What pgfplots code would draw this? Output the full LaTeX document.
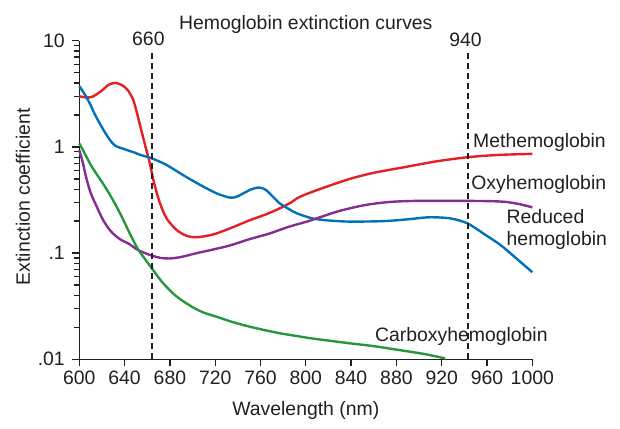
\documentclass[border=0pt]{standalone}
\usepackage{fontspec}
\setmainfont{Liberation Sans}
\usepackage{pgfplots}
\pgfplotsset{compat=1.18}
\definecolor{cred}{RGB}{228,32,38}
\definecolor{cblue}{RGB}{0,114,183}
\definecolor{cpurple}{RGB}{133,45,145}
\definecolor{cgreen}{RGB}{40,150,60}
\definecolor{caxis}{RGB}{35,31,32}
\newcommand\fs{\fontsize{19.4}{23}\selectfont}
\begin{document}
\begin{tikzpicture}
\begin{axis}[
  scale only axis, width=453pt, height=318.6pt,
  ymode=log, xmin=600, xmax=1000, ymin=0.01, ymax=10,
  axis lines*=left, axis line style={-, line width=1.5pt, color=caxis},
  clip=false,
  xtick={600,640,...,1000},
  xticklabels={600,640,680,720,760,800,840,880,920,960,1000},
  ytick={0.01,0.1,1,10}, yticklabels={.01,.1,1,10},
  tick align=outside, major tick length=7pt, minor tick length=5pt,
  every tick/.style={line width=1.3pt, color=caxis},
  tick label style={font=\fs, color=caxis},
  yticklabel style={xshift=-4pt},
  xticklabel style={yshift=-1pt},
  every axis plot/.append style={line width=2.4pt, smooth},
]
\coordinate (SW) at (rel axis cs:0,0);
% Methemoglobin
\addplot[cred] coordinates {
(600,3.0) (606,2.92) (612,2.98) (620,3.4) (626,3.85) (632,4.0) (638,3.8)
(643,3.4) (648,2.7) (653,1.7) (658,1.05) (662,0.72) (666,0.46) (671,0.30)
(677,0.213) (686,0.165) (695,0.145) (703,0.141) (712,0.145) (721,0.153)
(736,0.176) (751,0.205) (765,0.232) (777,0.264) (787,0.30) (795,0.34)
(815,0.41) (839,0.50) (860,0.57) (889,0.65) (915,0.73) (943,0.80)
(970,0.84) (1000,0.86)};
% Reduced hemoglobin
\addplot[cblue] coordinates {
(600,3.74) (605,3.1) (609,2.6) (614,2.0) (618,1.67) (624,1.3) (631,1.04)
(640,0.95) (648,0.89) (654,0.84) (664,0.78) (677,0.676) (692,0.54)
(707,0.437) (721,0.366) (733,0.333) (739,0.34) (745,0.366) (751,0.395)
(757,0.413) (761,0.41) (765,0.392) (771,0.34) (777,0.294) (785,0.26) (792,0.237)
(806,0.212) (820,0.203) (839,0.198) (868,0.20) (890,0.208) (907,0.217)
(920,0.216) (930,0.21) (943,0.19) (958,0.15) (972,0.119) (986,0.089) (1000,0.066)};
% Oxyhemoglobin
\addplot[cpurple] coordinates {
(600,0.93) (603,0.72) (606,0.52) (610,0.37) (615,0.28) (621,0.205) (628,0.16)
(636,0.135) (644,0.122) (651,0.108) (658,0.100) (665,0.094) (672,0.090)
(680,0.089) (690,0.092) (703,0.0995) (718,0.108) (733,0.118) (750,0.135)
(768,0.153) (785,0.177) (801,0.198) (815,0.222) (830,0.250) (852,0.283) (874,0.303)
(896,0.31) (918,0.31) (945,0.31) (965,0.308) (977,0.303) (988,0.29) (1000,0.27)};
% Carboxyhemoglobin
\addplot[cgreen] coordinates {
(600,1.08) (605,0.86) (610,0.68) (615,0.56) (621,0.45) (628,0.34) (636,0.237)
(645,0.150) (652,0.108) (658,0.088) (664,0.072) (674,0.052) (686,0.039)
(700,0.031) (710,0.0275) (721,0.0252) (735,0.0225) (748,0.0206) (762,0.019)
(777,0.0176) (790,0.0167) (804,0.0158) (820,0.0150) (840,0.0141) (860,0.0133)
(883,0.0122) (905,0.0112) (923,0.0102)};
% dashed reference lines
\addplot[caxis, line width=1.8pt, dash pattern=on 6pt off 4pt, no marks, sharp plot]
  coordinates {(664,0.01) (664,7.9)};
\addplot[caxis, line width=1.8pt, dash pattern=on 6pt off 4pt, no marks, sharp plot]
  coordinates {(943,0.01) (943,7.9)};
\node[font=\fs, anchor=base, inner sep=0, text=caxis, yshift=-5.3pt] at (axis cs:661,10) {660};
\node[font=\fs, anchor=base, inner sep=0, text=caxis, yshift=-6pt] at (axis cs:941,10) {940};
\node[font=\fs, anchor=base west, inner sep=0, text=caxis] at (axis cs:947.6,0.99) {Methemoglobin};
\node[font=\fs, anchor=base west, inner sep=0, text=caxis] at (axis cs:946,0.393) {Oxyhemoglobin};
\node[font=\fs, anchor=base west, inner sep=0, text=caxis] at (axis cs:977.2,0.188) {Reduced};
\node[font=\fs, anchor=base west, inner sep=0, text=caxis] at (axis cs:977.2,0.1167) {hemoglobin};
\node[font=\fs, anchor=base west, inner sep=0, text=caxis] at (axis cs:861,0.01486) {Carboxyhemoglobin};
\node[yshift=11.4pt, font=\fs, anchor=base, inner sep=0, text=caxis] at (rel axis cs:0.5,1) {Hemoglobin extinction curves};
\node[yshift=-56.4pt, font=\fs, anchor=base, inner sep=0, text=caxis] at (rel axis cs:0.5,0) {Wavelength (nm)};
\node[xshift=-49.3pt, rotate=90, font=\fs, anchor=base, inner sep=0, text=caxis] at (rel axis cs:0,0.51) {Extinction coefficient};
\end{axis}
\path (SW) ++(-79.3pt,-68.7pt) rectangle ++(620pt,428pt);
\end{tikzpicture}
\end{document}
